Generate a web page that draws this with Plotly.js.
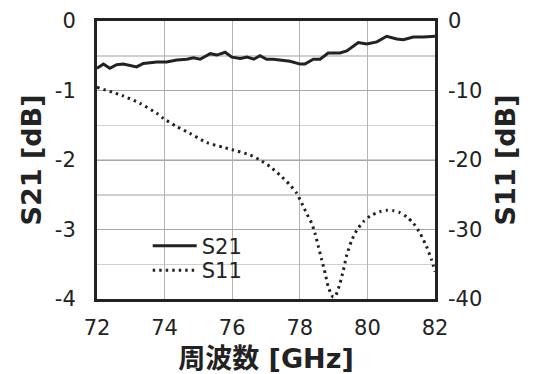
<!DOCTYPE html>
<html>
<head>
<meta charset="utf-8">
<script src="https://cdn.plot.ly/plotly-3.0.1.min.js"></script>
<style>html,body{margin:0;padding:0;background:#fff;}#chart{width:534px;height:374px;}</style>
</head>
<body>
<div id="chart"></div>
<script>
// S21 (left axis, dB)
const s21Freq = [72.0, 72.19, 72.38, 72.58, 72.78, 73.17, 73.37, 73.77, 74.06, 74.36, 74.66, 74.85, 75.05, 75.35, 75.55, 75.79, 75.99, 76.24, 76.44, 76.64, 76.82, 77.02, 77.22, 77.41, 77.71, 78.01, 78.15, 78.40, 78.60, 78.84, 79.19, 79.39, 79.73, 79.98, 80.28, 80.57, 80.87, 81.06, 81.36, 81.66, 82.0];
const s21Vals = [-0.68, -0.62, -0.68, -0.63, -0.62, -0.66, -0.61, -0.59, -0.59, -0.56, -0.55, -0.53, -0.55, -0.47, -0.49, -0.45, -0.52, -0.54, -0.52, -0.55, -0.50, -0.55, -0.55, -0.56, -0.58, -0.62, -0.62, -0.55, -0.55, -0.46, -0.46, -0.43, -0.31, -0.33, -0.30, -0.22, -0.26, -0.27, -0.23, -0.23, -0.22];
// S11 (right axis, dB)
const s11Freq = [72.0, 72.78, 73.27, 73.77, 73.96, 74.36, 74.75, 75.25, 75.74, 76.03, 76.53, 76.82, 77.12, 77.41, 77.71, 77.91, 78.06, 78.20, 78.35, 78.45, 78.55, 78.65, 78.75, 78.84, 78.94, 78.99, 79.07, 79.19, 79.29, 79.39, 79.54, 79.69, 79.88, 80.08, 80.37, 80.57, 80.77, 80.96, 81.16, 81.36, 81.56, 81.75, 81.90, 82.0];
const s11Vals = [-9.54, -10.79, -11.84, -13.28, -14.0, -15.2, -16.16, -17.51, -18.17, -18.56, -19.28, -20.0, -20.96, -22.16, -23.6, -24.8, -26.23, -27.67, -29.1, -30.55, -32.47, -34.39, -36.3, -38.23, -39.42, -39.76, -39.42, -37.74, -35.83, -33.67, -31.51, -30.07, -28.88, -28.06, -27.44, -27.24, -27.29, -27.58, -28.16, -29.1, -30.55, -32.47, -34.39, -36.07];
const xTicks = [72, 74, 76, 78, 80, 82];
const leftTicks = [0, -1, -2, -3, -4];
const rightTicks = [0, -10, -20, -30, -40];

const FONT = 'DejaVu Sans, Verdana, sans-serif';
const TFONT = 'DejaVu Sans, Noto Sans CJK JP, sans-serif';
const INK = '#222222';

const traces = [
  {x: s21Freq, y: s21Vals, name: 'S21', type: 'scatter', mode: 'lines',
   line: {color: INK, width: 3}, yaxis: 'y', legend: 'legend'},
  {x: s11Freq, y: s11Vals, name: 'S11', type: 'scatter', mode: 'lines',
   line: {color: INK, width: 3, dash: '2.5px,4px', shape: 'spline', smoothing: 0.6},
   yaxis: 'y2', legend: 'legend2'}
];

const legendStyle = {xanchor: 'left', yanchor: 'top', bgcolor: 'rgba(0,0,0,0)',
  font: {family: FONT, size: 21, color: INK}, itemwidth: 44};

const layout = {
  width: 534, height: 374,
  margin: {l: 97, r: 99, t: 21, b: 75, pad: 0},
  paper_bgcolor: '#fff', plot_bgcolor: '#fff',
  font: {family: FONT, size: 21, color: INK},
  showlegend: true,
  legend: Object.assign({x: 0.150, y: 0.264}, legendStyle),
  legend2: Object.assign({x: 0.150, y: 0.176}, legendStyle),
  xaxis: {range: [72, 82], tickvals: xTicks, ticktext: xTicks.map(String),
          showgrid: true, gridcolor: '#b4b4b4', gridwidth: 1,
          showline: true, linecolor: INK, linewidth: 3, mirror: true,
          ticks: '', ticklabelstandoff: 8, zeroline: false,
          tickfont: {family: FONT, size: 21, color: INK},
          title: {text: '周波数 [GHz]', font: {family: TFONT, size: 27, color: INK, weight: 'bold'}, standoff: 17}},
  yaxis: {range: [-4, 0], tickvals: leftTicks, ticktext: leftTicks.map(String),
          showgrid: true, gridcolor: '#a8a8a8', gridwidth: 1,
          minor: {dtick: 0.5, showgrid: true, gridcolor: '#cfcfcf', gridwidth: 1.5, ticks: ''},
          showline: true, linecolor: INK, linewidth: 3, mirror: true,
          ticks: '', ticklabelstandoff: 14, zeroline: false,
          tickfont: {family: FONT, size: 21, color: INK},
          title: {text: 'S21 [dB]', font: {family: FONT, size: 27, color: INK, weight: 'bold'}, standoff: 6}},
  yaxis2: {range: [-40, 0], tickvals: rightTicks, ticktext: rightTicks.map(String),
           overlaying: 'y', side: 'right', showgrid: false, zeroline: false,
           ticks: '', ticklabelstandoff: 12,
           tickfont: {family: FONT, size: 21, color: INK},
           title: {text: 'S11 [dB]', font: {family: FONT, size: 27, color: INK, weight: 'bold'}, standoff: 14}}
};

Plotly.newPlot('chart', traces, layout, {displayModeBar: false, staticPlot: true});
</script>
</body>
</html>
